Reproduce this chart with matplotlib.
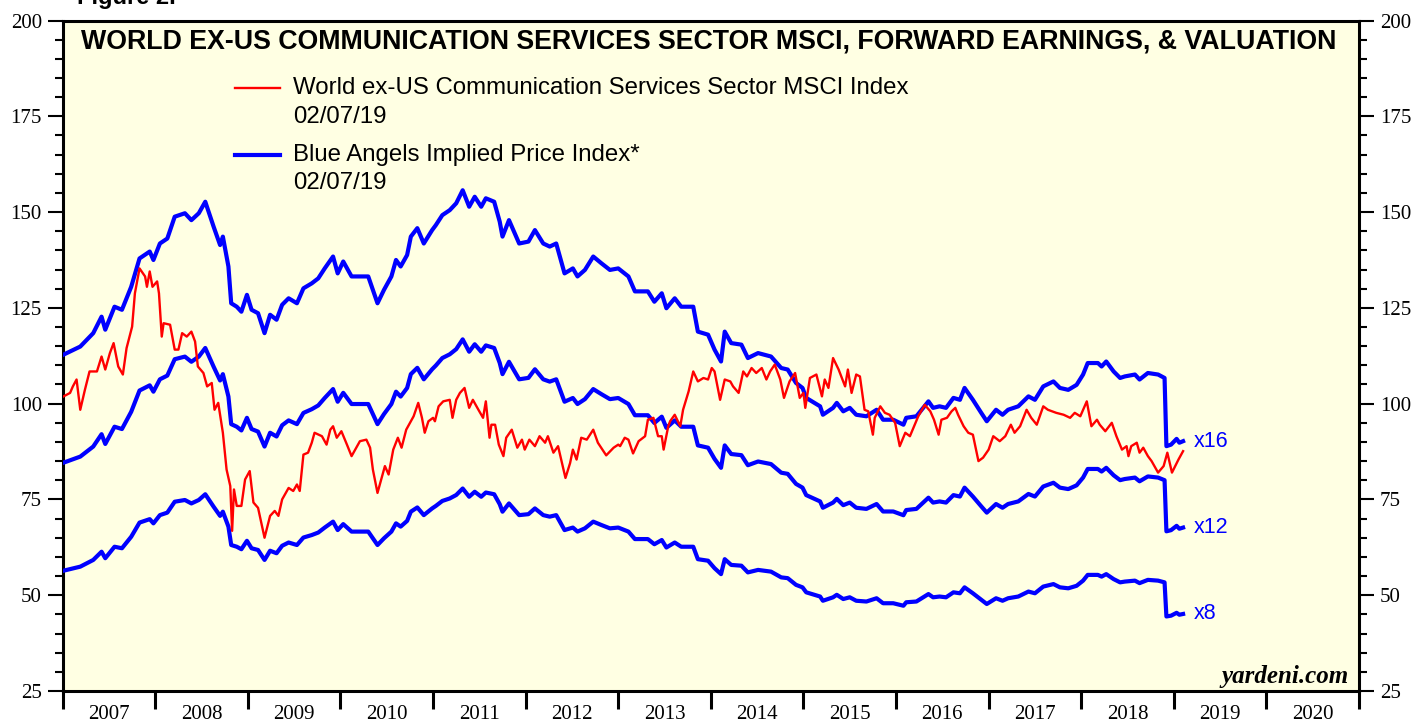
import numpy as np
import matplotlib
matplotlib.use('Agg')
import matplotlib.pyplot as plt
from matplotlib.lines import Line2D
from matplotlib.ticker import MultipleLocator, FixedLocator, NullFormatter

# World ex-US Communication Services Sector MSCI Index (weekly-ish)
red_years = [
    2007.01, 2007.08, 2007.11, 2007.15, 2007.19, 2007.24, 2007.29, 2007.37, 2007.42, 2007.46,
    2007.51, 2007.55, 2007.60, 2007.65, 2007.69, 2007.75, 2007.78, 2007.83, 2007.89, 2007.91,
    2007.94, 2007.97, 2008.02, 2008.04, 2008.07, 2008.09, 2008.16, 2008.21, 2008.25, 2008.29,
    2008.34, 2008.39, 2008.43, 2008.46, 2008.52, 2008.56, 2008.61, 2008.64, 2008.68, 2008.73,
    2008.77, 2008.81, 2008.83, 2008.85, 2008.88, 2008.93, 2008.97, 2009.02, 2009.06, 2009.11,
    2009.18, 2009.24, 2009.29, 2009.33, 2009.37, 2009.44, 2009.49, 2009.53, 2009.56, 2009.60,
    2009.65, 2009.69, 2009.72, 2009.80, 2009.85, 2009.89, 2009.92, 2009.96, 2010.01, 2010.07,
    2010.12, 2010.21, 2010.28, 2010.32, 2010.35, 2010.40, 2010.45, 2010.48, 2010.52, 2010.57,
    2010.62, 2010.66, 2010.71, 2010.79, 2010.84, 2010.88, 2010.91, 2010.95, 2011.00, 2011.02,
    2011.06, 2011.11, 2011.18, 2011.21, 2011.25, 2011.29, 2011.34, 2011.39, 2011.43, 2011.49,
    2011.54, 2011.57, 2011.61, 2011.63, 2011.67, 2011.71, 2011.76, 2011.79, 2011.85, 2011.91,
    2011.96, 2011.99, 2012.04, 2012.10, 2012.15, 2012.21, 2012.24, 2012.30, 2012.35, 2012.43,
    2012.48, 2012.51, 2012.55, 2012.60, 2012.66, 2012.73, 2012.78, 2012.87, 2012.95, 2013.00,
    2013.02, 2013.07, 2013.11, 2013.16, 2013.22, 2013.29, 2013.32, 2013.38, 2013.43, 2013.47,
    2013.49, 2013.54, 2013.56, 2013.61, 2013.67, 2013.70, 2013.76, 2013.81, 2013.86, 2013.92,
    2013.97, 2014.01, 2014.04, 2014.10, 2014.15, 2014.21, 2014.24, 2014.30, 2014.35, 2014.39,
    2014.44, 2014.49, 2014.55, 2014.60, 2014.64, 2014.69, 2014.75, 2014.79, 2014.85, 2014.91,
    2014.96, 2015.00, 2015.02, 2015.07, 2015.14, 2015.20, 2015.23, 2015.27, 2015.32, 2015.38,
    2015.45, 2015.48, 2015.52, 2015.57, 2015.61, 2015.66, 2015.70, 2015.75, 2015.77, 2015.83,
    2015.88, 2015.93, 2015.99, 2016.04, 2016.10, 2016.15, 2016.24, 2016.31, 2016.37, 2016.41,
    2016.46, 2016.49, 2016.55, 2016.60, 2016.64, 2016.67, 2016.73, 2016.78, 2016.83, 2016.89,
    2016.94, 2017.00, 2017.05, 2017.12, 2017.18, 2017.24, 2017.28, 2017.34, 2017.41, 2017.46,
    2017.52, 2017.59, 2017.64, 2017.73, 2017.81, 2017.88, 2017.93, 2017.99, 2018.06, 2018.11,
    2018.17, 2018.20, 2018.26, 2018.33, 2018.38, 2018.44, 2018.49, 2018.51, 2018.54, 2018.60,
    2018.63, 2018.67, 2018.72, 2018.76, 2018.83, 2018.89, 2018.93, 2018.98, 2019.05, 2019.10,
]
red_index = [
    101.9, 102.8, 104.5, 106.3, 98.4, 103.6, 108.4, 108.4, 112.3, 108.9,
    113.2, 115.8, 109.7, 107.6, 114.5, 120.1, 128.8, 135.3, 133.2, 130.5,
    134.5, 130.5, 131.9, 128.8, 117.5, 121.0, 120.6, 114.1, 114.1, 118.4,
    117.5, 118.8, 116.2, 109.7, 108.0, 104.5, 105.4, 98.4, 100.2, 92.4,
    82.8, 78.5, 66.8, 77.6, 73.3, 73.3, 80.2, 82.4, 74.2, 72.8,
    65.0, 70.7, 72.0, 70.7, 75.0, 78.0, 77.2, 78.9, 77.2, 86.7,
    87.2, 89.8, 92.4, 91.5, 89.3, 93.2, 94.1, 91.1, 92.8, 89.3,
    86.3, 90.2, 90.6, 88.5, 82.8, 76.7, 81.1, 83.7, 81.5, 88.0,
    91.1, 88.5, 93.2, 96.7, 100.2, 96.3, 92.4, 95.4, 96.3, 95.4,
    99.3, 100.6, 101.0, 96.3, 101.0, 102.8, 104.1, 98.9, 101.0, 98.4,
    96.3, 100.6, 91.1, 94.5, 94.5, 89.3, 86.3, 91.1, 93.2, 88.5,
    90.6, 88.0, 90.6, 88.9, 91.5, 89.8, 91.5, 87.2, 88.9, 80.6,
    84.5, 88.0, 85.4, 91.1, 90.6, 93.2, 89.8, 86.5, 88.5, 89.3,
    88.9, 91.1, 90.6, 87.0, 90.2, 91.5, 95.8, 96.3, 91.5, 91.5,
    88.0, 94.1, 95.4, 97.1, 94.1, 98.4, 103.2, 108.4, 105.8, 106.7,
    106.3, 109.3, 108.4, 101.0, 106.3, 105.8, 104.5, 102.8, 108.4, 107.1,
    109.3, 108.0, 109.3, 106.3, 108.4, 110.2, 106.3, 101.5, 105.8, 108.0,
    101.5, 102.8, 98.9, 106.7, 107.6, 101.9, 106.3, 104.1, 111.9, 108.9,
    104.5, 108.9, 102.8, 107.6, 107.1, 98.4, 98.0, 91.9, 96.3, 99.3,
    97.6, 97.1, 95.0, 88.9, 92.4, 91.5, 96.7, 99.7, 98.0, 95.8,
    91.9, 95.8, 96.3, 98.0, 98.9, 97.1, 94.1, 92.4, 91.9, 85.0,
    85.9, 88.0, 91.5, 90.2, 91.5, 94.5, 92.4, 94.1, 98.4, 96.3,
    94.5, 99.3, 98.4, 97.6, 97.1, 96.3, 97.6, 96.7, 100.6, 94.1,
    95.8, 94.5, 92.8, 95.0, 91.5, 88.0, 88.9, 86.3, 88.9, 89.8,
    87.2, 88.5, 86.3, 85.0, 82.0, 83.7, 87.2, 82.0, 85.4, 87.6,
]

# Blue Angels implied price index at a forward P/E of 16
blue_years = [
    2007.01, 2007.19, 2007.33, 2007.42, 2007.46, 2007.56, 2007.64, 2007.74, 2007.83, 2007.94,
    2007.98, 2008.05, 2008.13, 2008.21, 2008.32, 2008.39, 2008.47, 2008.54, 2008.63, 2008.70,
    2008.73, 2008.79, 2008.82, 2008.88, 2008.93, 2008.99, 2009.04, 2009.11, 2009.18, 2009.24,
    2009.31, 2009.37, 2009.44, 2009.53, 2009.60, 2009.69, 2009.76, 2009.83, 2009.92, 2009.97,
    2010.03, 2010.12, 2010.21, 2010.30, 2010.35, 2010.40, 2010.47, 2010.55, 2010.60, 2010.65,
    2010.72, 2010.76, 2010.83, 2010.90, 2010.99, 2011.03, 2011.10, 2011.18, 2011.25, 2011.32,
    2011.39, 2011.45, 2011.52, 2011.57, 2011.66, 2011.72, 2011.75, 2011.82, 2011.93, 2012.03,
    2012.10, 2012.19, 2012.26, 2012.33, 2012.42, 2012.51, 2012.56, 2012.64, 2012.73, 2012.82,
    2012.91, 2013.00, 2013.11, 2013.18, 2013.32, 2013.39, 2013.47, 2013.52, 2013.61, 2013.68,
    2013.81, 2013.86, 2013.97, 2014.04, 2014.11, 2014.15, 2014.22, 2014.33, 2014.40, 2014.51,
    2014.65, 2014.76, 2014.83, 2014.92, 2014.99, 2015.03, 2015.18, 2015.21, 2015.32, 2015.36,
    2015.43, 2015.50, 2015.57, 2015.68, 2015.79, 2015.86, 2015.97, 2016.08, 2016.11, 2016.22,
    2016.35, 2016.40, 2016.47, 2016.54, 2016.62, 2016.69, 2016.74, 2016.83, 2016.92, 2016.98,
    2017.08, 2017.15, 2017.21, 2017.32, 2017.43, 2017.50, 2017.59, 2017.70, 2017.77, 2017.86,
    2017.95, 2018.02, 2018.07, 2018.18, 2018.22, 2018.27, 2018.35, 2018.42, 2018.47, 2018.58,
    2018.63, 2018.72, 2018.83, 2018.90, 2018.92, 2018.97, 2019.03, 2019.06, 2019.10,
]
implied_x16 = [
    112.8, 114.9, 118.4, 122.7, 119.3, 125.3, 124.5, 130.5, 137.9, 139.7,
    137.5, 141.8, 143.1, 148.8, 149.7, 147.9, 149.7, 152.7, 146.2, 141.4,
    143.6, 135.8, 126.2, 125.3, 124.0, 128.4, 124.5, 123.6, 118.4, 123.2,
    121.9, 125.8, 127.5, 126.2, 130.1, 131.4, 132.7, 135.3, 138.4, 134.0,
    137.1, 133.2, 133.2, 133.2, 129.7, 126.2, 129.7, 133.2, 137.5, 135.8,
    138.8, 143.6, 145.8, 141.8, 145.3, 146.6, 149.2, 150.5, 152.3, 155.7,
    151.4, 154.0, 151.4, 153.6, 152.7, 147.5, 143.6, 147.9, 141.8, 142.3,
    145.3, 141.8, 141.0, 141.8, 134.0, 135.3, 133.2, 134.9, 138.4, 136.6,
    134.9, 135.3, 133.2, 129.3, 129.3, 126.6, 128.8, 124.9, 127.5, 125.3,
    125.3, 118.8, 118.0, 114.1, 111.0, 118.8, 115.8, 115.4, 111.9, 113.2,
    112.3, 109.3, 108.9, 105.4, 104.1, 101.5, 99.3, 97.1, 98.9, 100.2,
    98.0, 98.9, 97.1, 96.7, 98.4, 95.8, 95.8, 94.5, 96.3, 96.7,
    100.6, 98.9, 99.3, 98.9, 101.5, 101.0, 104.1, 101.0, 97.6, 95.4,
    98.4, 97.1, 98.4, 99.3, 101.9, 101.0, 104.5, 105.8, 104.1, 103.6,
    104.9, 107.6, 110.6, 110.6, 109.7, 111.0, 108.4, 106.7, 107.1, 107.6,
    106.3, 108.0, 107.6, 106.7, 88.9, 89.3, 90.8, 89.8, 90.2,
]
multiples = [16, 12, 8]

year_ticks = list(range(2007, 2022))
year_labels = [str(y) for y in range(2007, 2021)]

BG = '#ffffe3'
RED = '#ff0000'
BLUE = '#0000ff'
SERIF = 'Liberation Serif'
SANS = 'Liberation Sans'


def main():
    fig = plt.figure(figsize=(14.18, 7.23), dpi=100)
    ax = fig.add_axes([0.0442, 0.0443, 0.9142, 0.9273])
    ax.set_facecolor(BG)

    fwd_earnings = np.array(implied_x16) / 16
    for m in multiples:
        vals = fwd_earnings * m
        ax.plot(blue_years, vals, color=BLUE, lw=3.0, solid_joinstyle='round', zorder=3)
        ax.annotate(f'x{m}', xy=(blue_years[-1], vals[-1]), xytext=(8, 0),
                    textcoords='offset points', va='center', ha='left',
                    color=BLUE, fontsize=15.5, family=SANS)
    ax.plot(red_years, red_index, color=RED, lw=1.7, zorder=4)

    ax.set_xlim(2007, 2021)
    ax.set_ylim(25, 200)

    # y axis: labels both sides, minor ticks every 5
    ax.yaxis.set_major_locator(MultipleLocator(25))
    ax.yaxis.set_minor_locator(MultipleLocator(5))
    ax.tick_params(axis='y', which='both', direction='out', left=True, right=True,
                   labelleft=True, labelright=True, width=1.5, color='black')
    ax.tick_params(axis='y', which='major', length=11, pad=4, labelsize=15)
    ax.tick_params(axis='y', which='minor', length=6)

    # x axis: year boundaries as ticks, labels centred in each year
    ax.xaxis.set_major_locator(FixedLocator(year_ticks))
    ax.xaxis.set_major_formatter(NullFormatter())
    ax.xaxis.set_minor_locator(FixedLocator([y + 0.5 for y in range(2007, 2021)]))
    ax.set_xticklabels(year_labels, minor=True)
    ax.tick_params(axis='x', which='major', direction='out', length=13, width=2.2)
    ax.tick_params(axis='x', which='minor', length=0, pad=10, labelsize=15)

    for lab in ax.get_xticklabels(minor=True) + ax.get_yticklabels():
        lab.set_fontfamily(SERIF)
    for t in ax.yaxis.get_major_ticks():
        t.label2.set_fontfamily(SERIF)

    for s in ax.spines.values():
        s.set_linewidth(2.2)

    ax.text(0.4985, 0.968, 'WORLD EX-US COMMUNICATION SERVICES SECTOR MSCI, FORWARD EARNINGS, & VALUATION',
            transform=ax.transAxes, ha='center', va='center', fontsize=19.3,
            fontweight='bold', family=SANS)

    # legend drawn by hand so the swatch sits on the first text line
    for y0, col, lw, name in [(0.899, RED, 1.7, 'World ex-US Communication Services Sector MSCI Index'),
                              (0.800, BLUE, 3.0, 'Blue Angels Implied Price Index*')]:
        ax.add_line(Line2D([0.133, 0.168], [y0, y0], transform=ax.transAxes, color=col, lw=lw))
        ax.text(0.178, y0, name, transform=ax.transAxes, va='center', fontsize=17.3, family=SANS)
        ax.text(0.178, y0 - 0.043, '02/07/19', transform=ax.transAxes, va='center',
                fontsize=17.3, family=SANS)

    ax.text(0.992, 0.022, 'yardeni.com', transform=ax.transAxes, ha='right', va='center',
            fontsize=18, fontweight='bold', fontstyle='italic', family=SERIF)

    # the reference crops this caption at the top edge
    fig.text(0.054, 1 - 4 / 723, 'Figure 2.', ha='left', va='baseline', fontsize=17,
             fontweight='bold', family=SANS)

    fig.savefig('out.png', dpi=100)


if __name__ == '__main__':
    main()
